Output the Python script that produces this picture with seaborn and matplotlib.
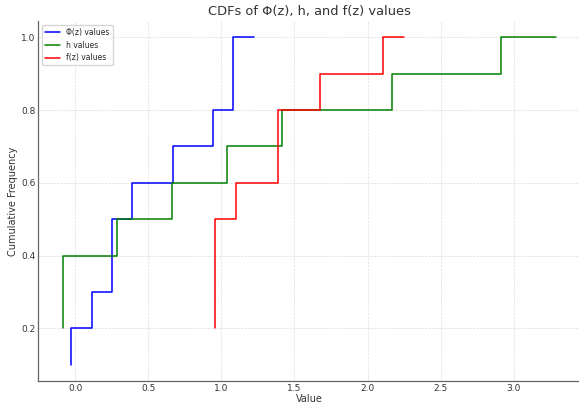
import numpy as np
import pandas as pd
import matplotlib.pyplot as plt
import seaborn as sns

# Datos (con repeticiones)

phi_values = [-0.029, 0.112, 0.249, 0.391, 0.391, 0.667, 0.944, 1.082, 1.226, 1.226]
h_values = [-0.084, -0.084, 0.288, 0.288, 0.665, 1.039, 1.413, 2.166, 2.916, 3.29]
f_values = [0.955, 0.955, 1.101, 1.101, 1.101, 1.386, 1.676, 1.676, 2.105, 2.249]

series_names = ["Φ(z) values", "h values", "f(z) values"]
series_colors = ["blue", "green", "red"]


def cdf_table(values, name):
    xs, counts = np.unique(values, return_counts=True)
    cdf = np.cumsum(counts) / len(values)
    return pd.DataFrame({"Value": xs, "CDF": cdf, "serie": name})


sns.set_style("whitegrid")

fig, ax = plt.subplots(figsize=(5.79, 4.09), dpi=100)
fig.subplots_adjust(left=0.066, right=1.003, bottom=0.068, top=0.949)

for valores, nombre, color in zip([phi_values, h_values, f_values], series_names, series_colors):
    tabla = cdf_table(valores, nombre)
    sns.lineplot(
        data=tabla,
        x="Value",
        y="CDF",
        drawstyle="steps-pre",
        estimator=None,
        color=color,
        linewidth=1.1,
        label=nombre,
        ax=ax
    )

ax.set_title("CDFs of Φ(z), h, and f(z) values", fontsize=9.4, color="#333333", pad=4)
ax.set_xlabel("Value", fontsize=7, color="#333333", labelpad=1)
ax.set_ylabel("Cumulative Frequency", fontsize=7, color="#333333", labelpad=2)
ax.tick_params(labelsize=6.5, length=3, width=0.6, direction="in",
               color="#cccccc", labelcolor="#333333", pad=2)
ax.set_yticks([0.2, 0.4, 0.6, 0.8, 1.0])

ax.grid(True, linestyle="--", linewidth=0.5, color="#dddddd")
for lado in ["top", "right"]:
    ax.spines[lado].set_visible(False)
for lado in ["left", "bottom"]:
    ax.spines[lado].set_color("#666666")
    ax.spines[lado].set_linewidth(0.9)

ax.legend(loc="upper left", fontsize=5.5, frameon=True)

plt.savefig("out.png", dpi=100)
plt.close()
